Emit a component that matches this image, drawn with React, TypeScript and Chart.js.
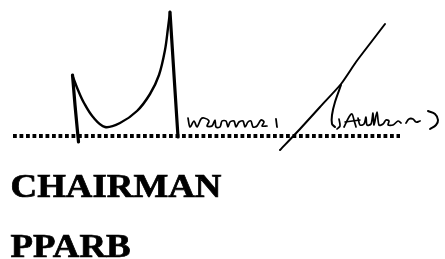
import React, { useEffect, useRef } from "react";
import { Chart, registerables } from "chart.js";

Chart.register(...registerables);

// Signature strokes, in picture units (x to the right, y downward)
const DOTTED_RULE: [number, number][] = [[13, 136], [400, 136]];
const LEFT_STEM: [number, number][] = [[72.5, 75], [75, 105], [78.5, 142]];
const BOWL: [number, number][] = [
  [73, 77], [78, 90], [84, 103], [93, 117], [105, 127], [120, 123],
  [137, 111], [150, 94], [159, 75], [165, 50], [168, 28], [170, 12],
];
const PEAK_STEM: [number, number][] = [[170, 12], [174, 75], [178, 137]];
const SCRIPT_ONE: [number, number][] = [
  [188, 118], [190, 127], [194, 121], [197, 127], [201, 119], [204, 118],
  [209, 121], [207, 126], [212, 126], [215, 120], [216, 127],
  [220, 127], [222, 121], [226, 121], [228, 127], [230, 122], [234, 121], [236, 127],
  [239, 122], [243, 121], [245, 127], [248, 122], [251, 121], [253, 127],
  [257, 126], [261, 120], [264, 122], [262, 126], [267, 126],
];
const SCRIPT_ONE_TICK: [number, number][] = [[276, 119], [277, 127]];
const SLASH: [number, number][] = [
  [385, 24], [372, 41], [356, 62], [341, 84], [320, 107], [300, 129], [280, 150],
];
const HOOK: [number, number][] = [[341, 85], [335, 102], [332, 115], [332, 124], [335, 127]];
const SCRIPT_COMMA: [number, number][] = [[339, 119], [340, 126], [337, 129]];
const SCRIPT_A: [number, number][] = [[344, 127], [349, 117], [352, 114], [354, 120], [356, 127]];
const SCRIPT_A_BAR: [number, number][] = [[345, 122], [360, 120]];
const SCRIPT_TWO: [number, number][] = [
  [358, 118], [360, 125], [364, 124], [366, 117], [367, 125], [371, 124],
  [373, 113], [374, 125], [377, 112], [379, 125], [383, 124], [386, 120],
  [389, 121], [388, 125], [393, 125], [398, 121], [401, 123],
];
const SCRIPT_WAVE: [number, number][] = [[406, 123], [409, 119], [413, 119], [416, 122], [420, 121]];
const SCRIPT_PAREN: [number, number][] = [[428, 111], [435, 114], [438, 120], [436, 125], [430, 129]];

// Printed caption lines
const CAPTION_LINES = ["CHAIRMAN", "PPARB"];

const toPts = (a: [number, number][]) => a.map(([x, y]) => ({ x, y }));

export default function App() {
  const ref = useRef<HTMLCanvasElement | null>(null);

  useEffect(() => {
    if (!ref.current) return;
    const stroke = (data: [number, number][], width: number, tension = 0, dash: number[] = []) => ({
      data: toPts(data),
      showLine: true,
      borderColor: "#000",
      backgroundColor: "#000",
      borderWidth: width,
      pointRadius: 0,
      tension,
      borderDash: dash,
      borderCapStyle: dash.length ? "butt" : "round",
      borderJoinStyle: "round",
      fill: false,
    });

    const captionPlugin = {
      id: "caption",
      afterDraw(chart: any) {
        const ctx = chart.ctx as CanvasRenderingContext2D;
        ctx.save();
        ctx.fillStyle = "#000";
        ctx.strokeStyle = "#000";
        ctx.lineWidth = 0.7;
        ctx.font = "bold 33px 'Liberation Serif'";
        ctx.textBaseline = "alphabetic";
        const w = ctx.measureText(CAPTION_LINES[0]).width;
        const sx = 211 / w;
        const baselines = [197, 257];
        CAPTION_LINES.forEach((t, i) => {
          ctx.save();
          ctx.translate(10.5, baselines[i]);
          ctx.scale(sx, 1);
          ctx.fillText(t, 0, 0);
          ctx.strokeText(t, 0, 0);
          ctx.restore();
        });
        ctx.restore();
      },
    };

    const chart = new Chart(ref.current, {
      type: "scatter",
      data: {
        datasets: [
          stroke(DOTTED_RULE, 4, 0, [3.8, 2.7]),
          stroke(LEFT_STEM, 3.2),
          stroke(BOWL, 2.4, 0.35),
          stroke(PEAK_STEM, 3.2),
          stroke(SCRIPT_ONE, 1.7, 0.3),
          stroke(SCRIPT_ONE_TICK, 1.8),
          stroke(SLASH, 2, 0.2),
          stroke(HOOK, 2, 0.3),
          stroke(SCRIPT_COMMA, 1.7, 0.3),
          stroke(SCRIPT_A, 1.7, 0.3),
          stroke(SCRIPT_A_BAR, 1.5),
          stroke(SCRIPT_TWO, 1.7, 0.3),
          stroke(SCRIPT_WAVE, 1.8, 0.4),
          stroke(SCRIPT_PAREN, 2, 0.4),
        ] as any,
      },
      options: {
        animation: false,
        responsive: false,
        maintainAspectRatio: false,
        layout: { padding: 0 },
        plugins: { legend: { display: false }, tooltip: { enabled: false }, title: { display: false } },
        scales: {
          x: { type: "linear", min: 0, max: 445, display: false },
          y: { type: "linear", min: 0, max: 259, reverse: true, display: false },
        },
      },
      plugins: [captionPlugin],
    });
    return () => chart.destroy();
  }, []);

  return (
    <div style={{ position: "fixed", left: 0, top: 0, width: 445, height: 259, background: "#fff" }}>
      <canvas ref={ref} width={445} height={259} style={{ width: 445, height: 259, display: "block" }} />
    </div>
  );
}
